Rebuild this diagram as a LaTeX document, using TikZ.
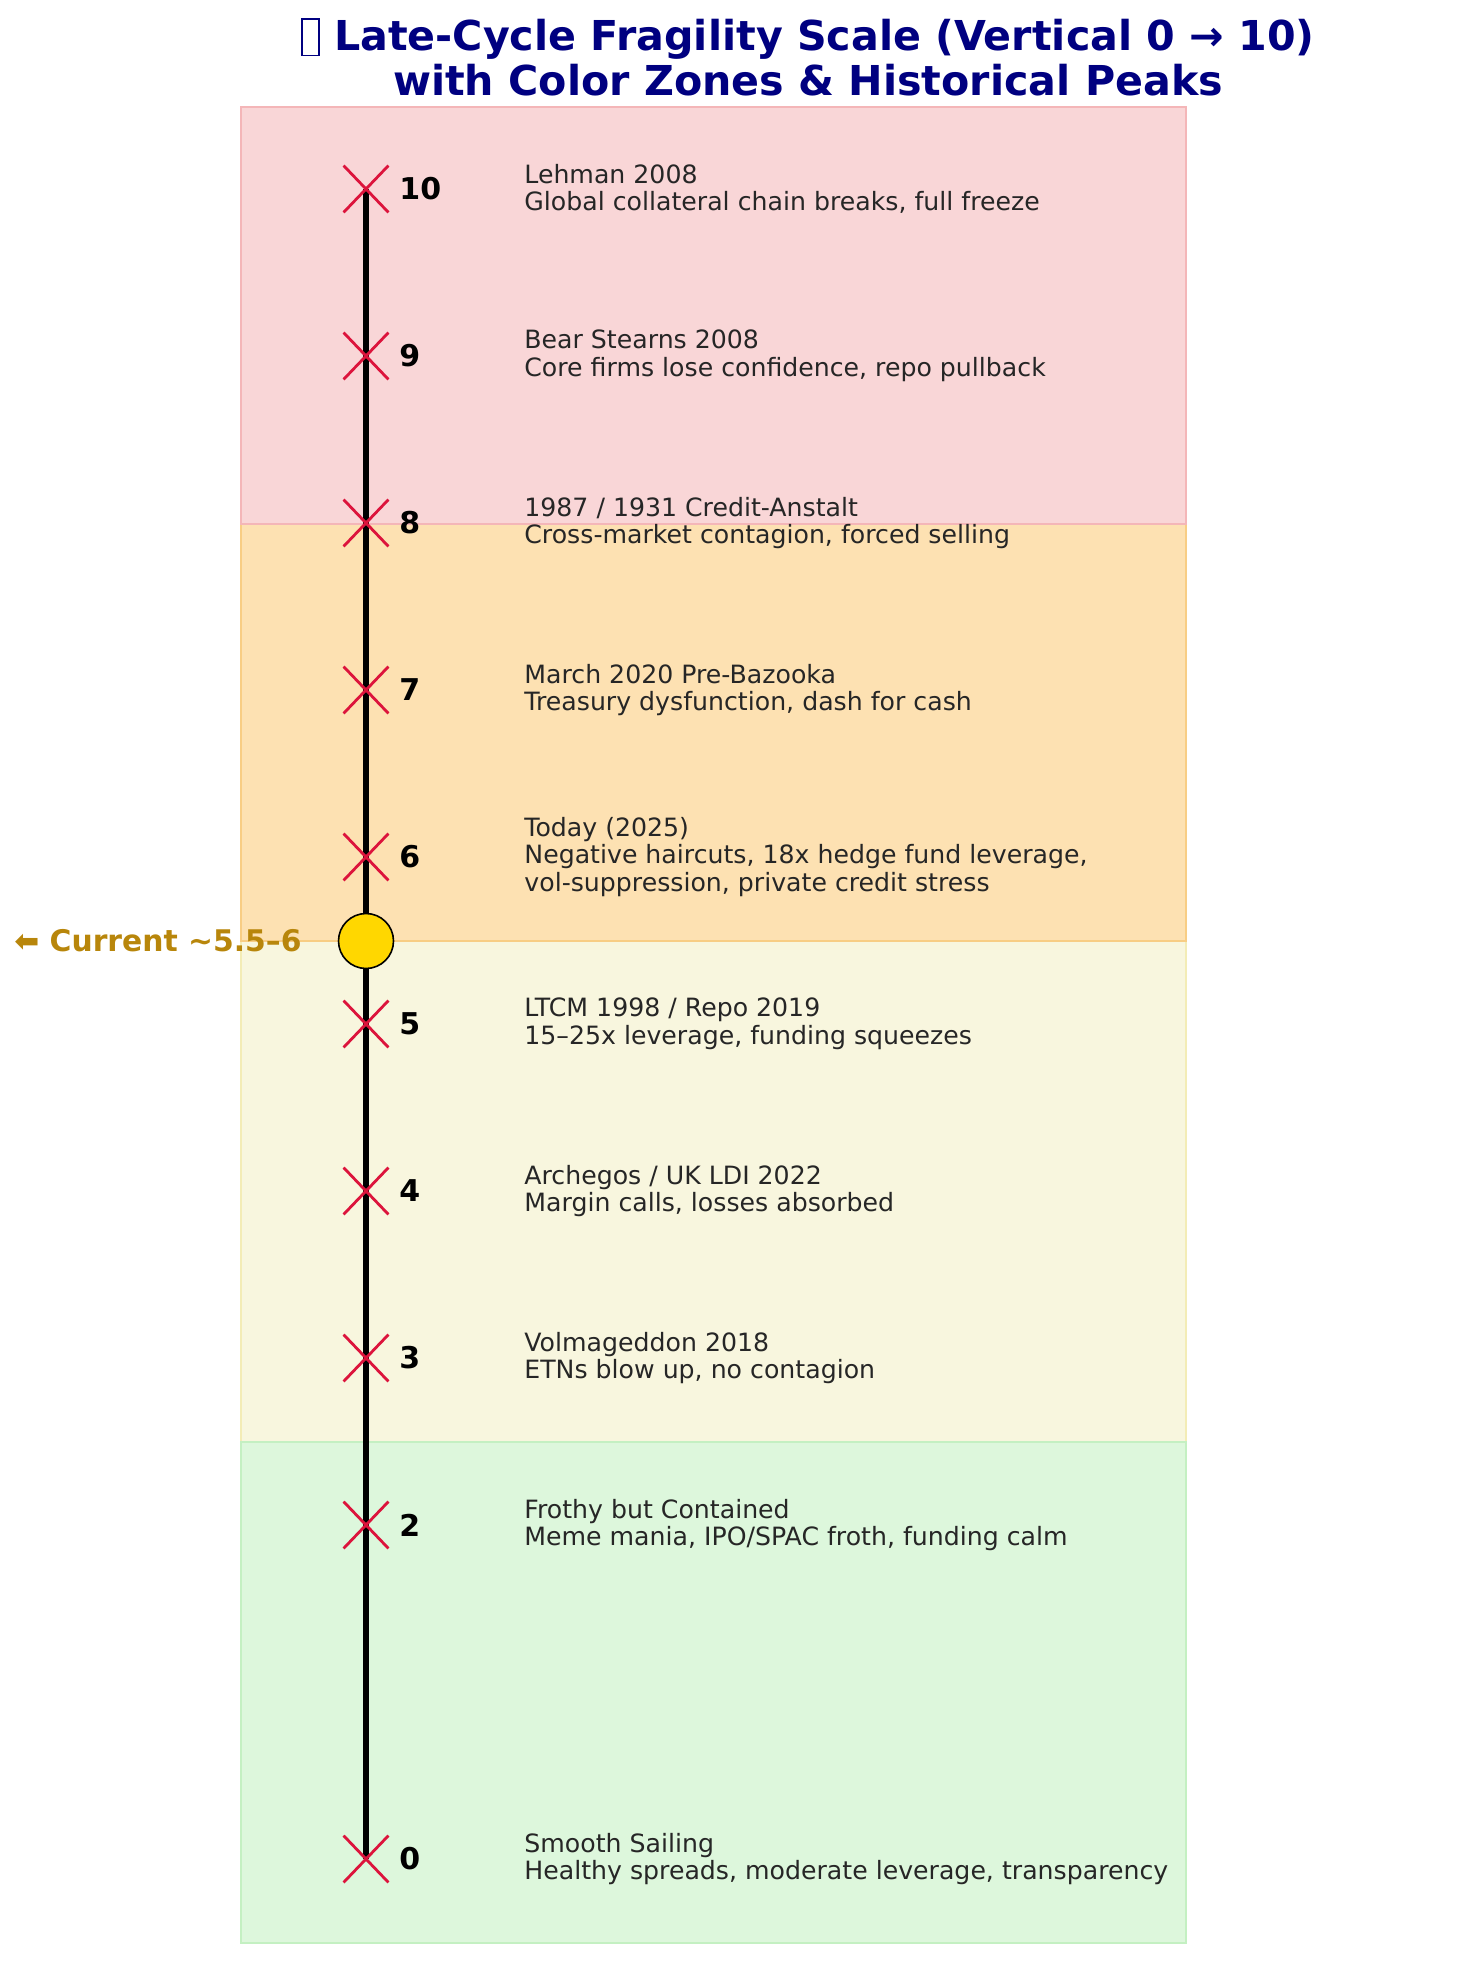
\documentclass[tikz,border=0pt]{standalone}
\usepackage{fontspec}
\setmainfont{DejaVu Sans}
\usetikzlibrary{shapes.misc}
\definecolor{titlenavy}{HTML}{000080}
\definecolor{curgold}{HTML}{B8860B}
\definecolor{markred}{HTML}{DC143C}
\definecolor{dotgold}{HTML}{FFD700}
\definecolor{txtgray}{HTML}{262626}
\definecolor{redfill}{HTML}{F9D6D7}
\definecolor{rededge}{HTML}{F4B6B8}
\definecolor{orafill}{HTML}{FDE1B2}
\definecolor{oraedge}{HTML}{F8CD84}
\definecolor{yelfill}{HTML}{F8F6DE}
\definecolor{yeledge}{HTML}{F3ECB6}
\definecolor{grnfill}{HTML}{DDF7DC}
\definecolor{grnedge}{HTML}{C4F0C2}
\begin{document}
\begin{tikzpicture}[x=0.5pt,y=-0.5pt,
  zone/.style={line width=1pt},
  levelmark/.style={cross out,draw=markred,line width=1.4pt,minimum width=21pt,minimum height=22pt,inner sep=0pt},
  levelnum/.style={anchor=west,inner sep=0pt,font=\fontsize{15}{18}\selectfont\bfseries},
  desc/.style={anchor=west,inner sep=0pt,align=left,text=txtgray,font=\fontsize{12.6}{13.75}\selectfont},
  axisline/.style={line width=3pt,black}]
\useasboundingbox (0,0) rectangle (1456,1962);
% zones
\path[zone,fill=yelfill,draw=yeledge] (241,941) rectangle (1186,1442);
\path[zone,fill=grnfill,draw=grnedge] (241,1442) rectangle (1186,1943);
\path[zone,fill=orafill,draw=oraedge] (241,524) rectangle (1186,941);
\path[zone,fill=redfill,draw=rededge] (241,107) rectangle (1186,524);
% title
\node[text=titlenavy,align=center,font=\fontsize{20.6}{22.5}\selectfont\bfseries] (title) at (808,57)
 {{\fboxsep=0pt\fboxrule=0.9pt\raisebox{-0.1em}{\fbox{\rule{0pt}{0.85em}\hspace{0.36em}}}} Late-Cycle Fragility Scale (Vertical 0 → 10)\\ with Color Zones \& Historical Peaks};
% axis
\coordinate (top) at (366,189);
\coordinate (bot) at (366,1859);
\draw[axisline] (top) -- (bot);
% levels
\foreach \v/\t in {
 10/{Lehman 2008\\Global collateral chain breaks, full freeze},
 9/{Bear Stearns 2008\\Core firms lose confidence, repo pullback},
 8/{1987 / 1931 Credit-Anstalt\\Cross-market contagion, forced selling},
 7/{March 2020 Pre-Bazooka\\Treasury dysfunction, dash for cash},
 6/{Today (2025)\\Negative haircuts, 18x hedge fund leverage,\\vol-suppression, private credit stress},
 5/{LTCM 1998 / Repo 2019\\15–25x leverage, funding squeezes},
 4/{Archegos / UK LDI 2022\\Margin calls, losses absorbed},
 3/{Volmageddon 2018\\ETNs blow up, no contagion},
 2/{Frothy but Contained\\Meme mania, IPO/SPAC froth, funding calm},
 0/{Smooth Sailing\\Healthy spreads, moderate leverage, transparency}} {
  \pgfmathsetmacro\yy{1859-167*\v}
  \node[levelmark] (m\v) at (366,\yy) {};
  \node[levelnum] (n\v) at (399,\yy) {\v};
  \node[desc] (d\v) at (524,\yy) {\t};
}
% current marker
\node[circle,fill=dotgold,draw=black,line width=0.8pt,minimum size=27.5pt,inner sep=0pt] (cur) at (366,941) {};
\node[anchor=east,inner sep=0pt,text=curgold,font=\fontsize{14.9}{18}\selectfont\bfseries] (curlabel) at (302,941) {⬅ Current \textasciitilde5.5–6};
\end{tikzpicture}
\end{document}
